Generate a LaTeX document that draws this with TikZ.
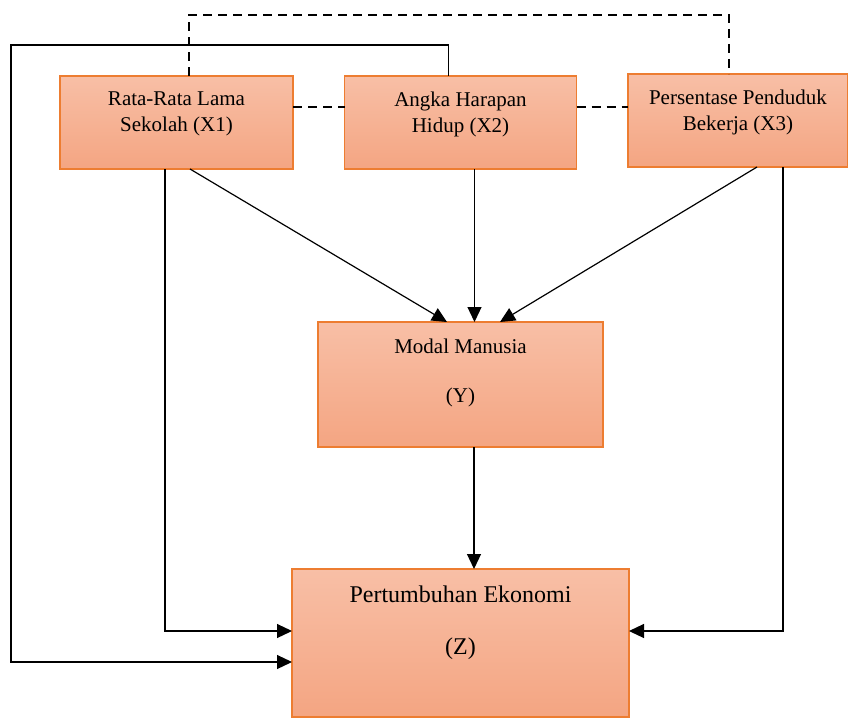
\documentclass[tikz,border=0pt]{standalone}
\usepackage{fontspec}
\setmainfont{Liberation Serif}
\usetikzlibrary{arrows.meta, positioning}

\definecolor{boxtop}{RGB}{248,191,166}
\definecolor{boxbot}{RGB}{244,165,130}
\definecolor{boxline}{RGB}{237,125,49}

\begin{document}
\begin{tikzpicture}[
  x=1pt, y=-1pt,
  box/.style={draw=boxline, line width=1.3pt, rectangle, top color=boxtop, bottom color=boxbot, inner sep=0pt, outer sep=0pt},
  txt/.style={align=center, inner sep=0pt, font=\fontsize{21}{26}\selectfont},
  arr/.style={-{Triangle[length=15pt,width=14pt]}, line width=1.2pt},
  link/.style={line width=1.2pt},
  dashline/.style={line width=1.8pt, dash pattern=on 9pt off 6pt}
]
\useasboundingbox (0,0) rectangle (848,717);

\node[box, minimum width=233pt, minimum height=93pt] (x1) at (176.5,122.5) {};
\node[box, minimum width=232pt, minimum height=93pt] (x2) at (460.5,122.5) {};
\node[box, minimum width=220pt, minimum height=93pt] (x3) at (738,120.5) {};
\node[box, minimum width=285pt, minimum height=125pt] (y) at (460.5,384.5) {};
\node[box, minimum width=337pt, minimum height=148pt] (z) at (460.5,643) {};

\node[txt] (x1txt) [below=16pt of x1.north] {Rata-Rata Lama\\Sekolah (X1)};
\node[txt] (x2txt) [below=16pt of x2.north] {Angka Harapan\\Hidup (X2)};
\node[txt] (x3txt) [below=16pt of x3.north] {Persentase Penduduk\\Bekerja (X3)};
\node[txt] (ytxt) [below=17pt of y.north] {Modal Manusia\\[23pt](Y)};
\node[txt, font=\fontsize{24}{29}\selectfont] (ztxt) [below=17pt of z.north] {Pertumbuhan Ekonomi\\[23pt](Z)};

\coordinate (dtop) at (729,15);
\coordinate (loop) at (11,45);

% dashed links between the X boxes
\draw[dashline] ([xshift=12.5pt]x1.north) |- (dtop) -- (dtop |- x3.north);
\draw[dashline] ([yshift=15.5pt]x1.east) -- ([yshift=15.5pt]x2.west);
\draw[dashline] ([yshift=15.5pt]x2.east) -- ([yshift=13.5pt]x3.west);

% into Y
\draw[arr] ([xshift=13.5pt]x1.south) -- ([xshift=-13.5pt]y.north);
\draw[arr] ([xshift=14pt]x2.south) -- ([xshift=14pt]y.north);
\draw[arr] ([xshift=19pt]x3.south) -- ([xshift=39.5pt]y.north);

% into Z
\draw[arr] ([xshift=13.5pt]y.south) -- ([xshift=13.5pt]z.north);
\draw[arr] ([xshift=-11.5pt]x1.south) |- ([yshift=12pt]z.west);
\draw[arr] ([xshift=45pt]x3.south) |- ([yshift=12pt]z.east);
\draw[arr] ([xshift=-12pt]x2.north) |- (loop) |- ([yshift=-19pt]z.west);
\end{tikzpicture}
\end{document}
